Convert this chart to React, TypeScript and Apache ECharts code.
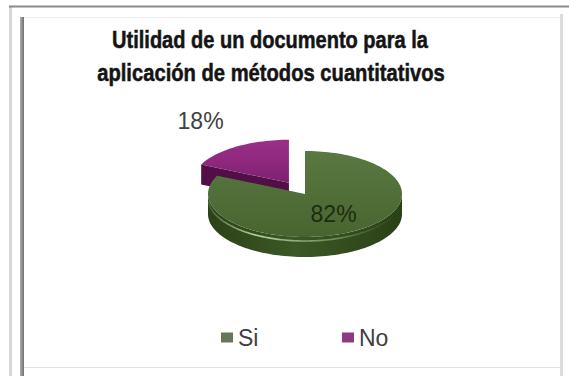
import React, { useEffect, useRef } from 'react';
import * as echarts from 'echarts';

// ---- data ----
const categories = ['Si', 'No'];
const values = [82, 18];
const percentLabels = ['82%', '18%'];
const titleLines = ['Utilidad de un documento para la', 'aplicación de métodos cuantitativos'];
// slice order going counter-clockwise from 12 o'clock (indices into categories)
const ccwOrder = [1, 0];

// ---- layout / style ----
const PIE = { cx: 305, cy: 194, rx: 97, ry: 43, depth: 20 };
const TITLE_WIDTHS = [316, 348];
const STYLE = [
  {
    top: ['#5a7842', '#48652f'],
    side: ['#2b4217', '#3c5826', '#2a4016'],
    face: '#3a5424',
    label: '#1d2b12',
    legend: '#66775a',
    explode: 0,
    labelR: 0.55,
    z: 10,
  },
  {
    top: ['#9c2f8a', '#7f216f'],
    side: ['#4a0c40', '#5e1652', '#4a0c40'],
    face: '#520f47',
    label: '#404040',
    legend: '#8b3b7e',
    explode: 30,
    labelR: 1.7,
    z: 1,
  },
];
const LABEL_FONT = "23px 'Liberation Sans', Arial, sans-serif";
const TITLE_FONT = "bold 23px 'Liberation Sans', Arial, sans-serif";

function sliceAngles(idx: number): [number, number] {
  const total = values.reduce((a, b) => a + b, 0);
  let a = 90;
  for (const k of ccwOrder) {
    const span = (values[k] / total) * 360;
    if (k === idx) return [a, a + span];
    a += span;
  }
  return [0, 0];
}

function makeRender(idx: number) {
  return function () {
    const [a0, a1] = sliceAngles(idx);
    const s = STYLE[idx];
    const D = PIE.depth;
    const midDeg = (a0 + a1) / 2;
    const mid = (midDeg * Math.PI) / 180;
    const ox = s.explode * Math.cos(mid);
    const oy = -s.explode * Math.sin(mid) * (PIE.ry / PIE.rx);
    const cx = PIE.cx + ox;
    const cy = PIE.cy + oy;
    const P = (deg: number, r = 1, dz = 0) => {
      const t = (deg * Math.PI) / 180;
      return [cx + PIE.rx * r * Math.cos(t), cy - PIE.ry * r * Math.sin(t) + dz];
    };
    const arc = (from: number, to: number, dz = 0) => {
      const n = Math.max(2, Math.ceil(Math.abs(to - from) / 2));
      const pts: number[][] = [];
      for (let i = 0; i <= n; i++) pts.push(P(from + ((to - from) * i) / n, 1, dz));
      return pts;
    };
    const children: any[] = [];
    const faceAt = (deg: number) => ({
      type: 'polygon',
      z2: s.z,
      shape: { points: [[cx, cy], P(deg), P(deg, 1, D), [cx, cy + D]] },
      style: { fill: s.face },
    });
    const rad = (d: number) => (d * Math.PI) / 180;
    if (Math.cos(rad(a1)) < -1e-6) children.push(faceAt(a1));
    if (Math.cos(rad(a0)) > 1e-6) children.push(faceAt(a0));
    for (const [lo, hi] of [[180, 360], [540, 720]]) {
      const s0 = Math.max(a0, lo);
      const e0 = Math.min(a1, hi);
      if (e0 > s0) {
        const topPts = arc(s0, e0);
        const botPts = arc(s0, e0, D).reverse();
        children.push({
          type: 'polygon',
          z2: s.z,
          shape: { points: topPts.concat(botPts) },
          style: {
            fill: new echarts.graphic.LinearGradient(0, 0, 1, 0, [
              { offset: 0, color: s.side[0] },
              { offset: 0.45, color: s.side[1] },
              { offset: 1, color: s.side[2] },
            ]),
          },
        });
        if (idx === 0) {
          children.push({
            type: 'polyline',
            z2: s.z + 1,
            shape: { points: arc(s0 + 4, e0 - 20, 4) },
            style: {
              fill: null,
              lineWidth: 1.6,
              stroke: new echarts.graphic.LinearGradient(0, 0, 1, 0, [
                { offset: 0, color: 'rgba(190,215,170,0.2)' },
                { offset: 0.25, color: 'rgba(200,225,180,0.9)' },
                { offset: 0.7, color: 'rgba(160,190,140,0.5)' },
                { offset: 1, color: 'rgba(120,150,100,0)' },
              ]),
            },
          });
        }
      }
    }
    children.push({
      type: 'polygon',
      z2: s.z + 2,
      shape: { points: [[cx, cy]].concat(arc(a0, a1)) },
      style: {
        fill: new echarts.graphic.LinearGradient(0, 0, 0, 1, [
          { offset: 0, color: s.top[0] },
          { offset: 1, color: s.top[1] },
        ]),
      },
    });
    const lp = P(midDeg, s.labelR);
    children.push({
      type: 'text',
      z2: 30,
      x: lp[0],
      y: lp[1],
      style: {
        text: percentLabels[idx],
        fill: s.label,
        font: LABEL_FONT,
        align: 'center',
        verticalAlign: 'middle',
      },
    });
    return { type: 'group', children };
  };
}

function measure(text: string, font: string) {
  const ctx = document.createElement('canvas').getContext('2d');
  if (!ctx) return 0;
  ctx.font = font;
  return ctx.measureText(text).width;
}

export default function App() {
  const ref = useRef<HTMLDivElement>(null);
  useEffect(() => {
    if (!ref.current) return;
    const chart = echarts.init(ref.current, null, { renderer: 'svg' });
    const titleScale = titleLines.map((t, i) => {
      const w = measure(t, TITLE_FONT);
      return w > 0 ? TITLE_WIDTHS[i] / w : 0.76;
    });
    chart.setOption({
      animation: false,
      backgroundColor: '#ffffff',
      legend: [0, 1].map((i) => ({
        data: [categories[i]],
        left: i === 0 ? 216 : 337,
        top: 321,
        icon: 'rect',
        itemWidth: 12,
        itemHeight: 10,
        itemGap: 4,
        selectedMode: false,
        textStyle: { fontSize: 23, color: '#404040', fontFamily: "'Liberation Sans', Arial, sans-serif" },
      })),
      graphic: [
        { type: 'rect', silent: true, shape: { x: 9, y: 6, width: 3, height: 370 }, style: { fill: '#d6d6d6' } },
        { type: 'line', silent: true, shape: { x1: 9, y1: 6.5, x2: 569, y2: 6.5 }, style: { stroke: '#8a8a8a', lineWidth: 2 } },
        { type: 'line', silent: true, shape: { x1: 24, y1: 17.5, x2: 561, y2: 17.5 }, style: { stroke: '#ececec', lineWidth: 1 } },
        { type: 'rect', silent: true, shape: { x: 560, y: 14, width: 3, height: 362 }, style: { fill: '#dcdcdc' } },
        { type: 'line', silent: true, shape: { x1: 24, y1: 367.5, x2: 560, y2: 367.5 }, style: { stroke: '#e2e2e2', lineWidth: 1 } },
        {
          type: 'rect',
          silent: true,
          shape: { x: 20, y: 17, width: 4, height: 359 },
          style: {
            fill: new echarts.graphic.LinearGradient(1, 0, 0, 0, [
              { offset: 0, color: '#6e6e6e' },
              { offset: 1, color: '#b0b0b0' },
            ]),
          },
        },
        {
          type: 'text',
          x: 270,
          y: 40,
          scaleX: titleScale[0],
          style: { text: titleLines[0], font: TITLE_FONT, fill: '#141414', stroke: '#141414', lineWidth: 0.5, align: 'center', verticalAlign: 'middle' },
        },
        {
          type: 'text',
          x: 271,
          y: 73,
          scaleX: titleScale[1],
          style: { text: titleLines[1], font: TITLE_FONT, fill: '#141414', stroke: '#141414', lineWidth: 0.5, align: 'center', verticalAlign: 'middle' },
        },
      ],
      series: [0, 1].map((i) => ({
        type: 'custom',
        name: categories[i],
        coordinateSystem: 'none',
        z: STYLE[i].z,
        itemStyle: { color: STYLE[i].legend },
        data: [[values[i]]],
        renderItem: makeRender(i),
      })),
    });
    return () => chart.dispose();
  }, []);
  return (
    <div
      ref={ref}
      style={{ position: 'absolute', left: 0, top: 0, width: 569, height: 376 }}
    />
  );
}
